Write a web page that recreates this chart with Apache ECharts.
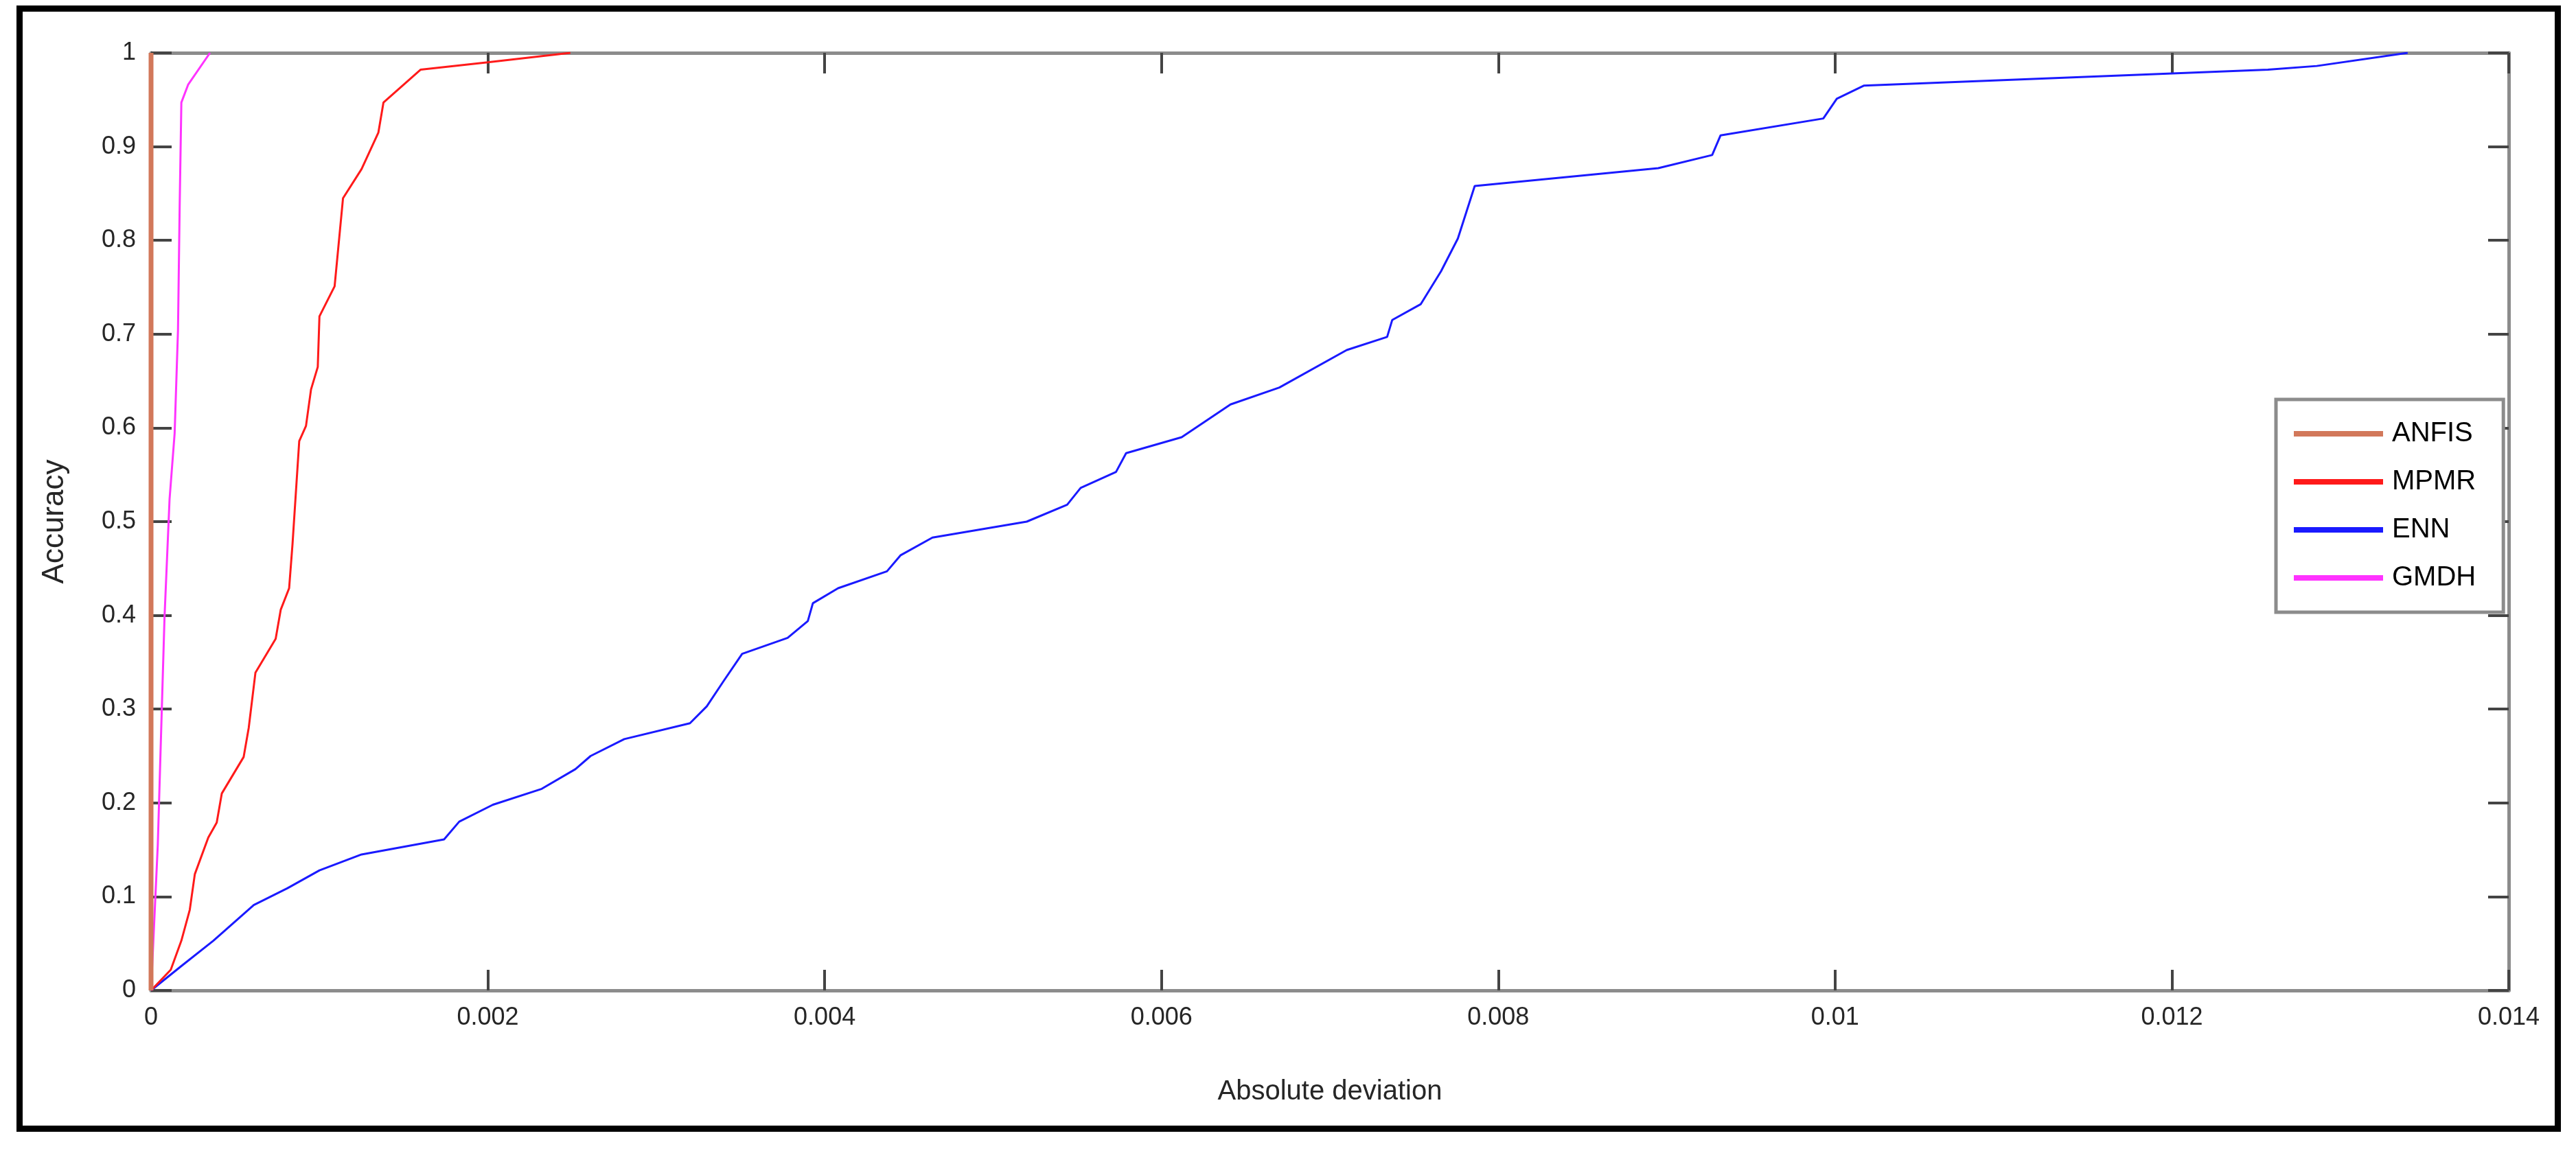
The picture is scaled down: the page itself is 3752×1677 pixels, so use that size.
<!DOCTYPE html>
<html>
<head>
<meta charset="utf-8">
<script src="https://cdn.jsdelivr.net/npm/echarts@6/dist/echarts.min.js"></script>
<style>
  html, body { margin: 0; padding: 0; background: #fff; }
  #chart { width: 3752px; height: 1677px; }
</style>
</head>
<body>
<div id="chart"></div>
<script>
// curves: [absolute deviation, accuracy]
var anfis = [[0, 0], [0, 1]];
var mpmr = [[0, 0], [0.000117, 0.022], [0.00018, 0.053], [0.00023, 0.086], [0.00026, 0.124],
  [0.00034, 0.163], [0.00039, 0.179], [0.00042, 0.21], [0.00055, 0.249], [0.00058, 0.28],
  [0.00062, 0.339], [0.00074, 0.375], [0.00077, 0.406], [0.00082, 0.429], [0.00084, 0.476],
  [0.00088, 0.586], [0.00092, 0.602], [0.00095, 0.641], [0.00099, 0.665], [0.001, 0.719],
  [0.00109, 0.751], [0.00114, 0.845], [0.00125, 0.876], [0.00135, 0.915], [0.00138, 0.947],
  [0.0016, 0.982], [0.002, 0.99], [0.00249, 1]];
var enn = [[0, 0], [0.00018, 0.026], [0.00037, 0.053], [0.00061, 0.091], [0.00081, 0.109],
  [0.001, 0.128], [0.00125, 0.145], [0.00174, 0.161], [0.00183, 0.18], [0.00203, 0.198],
  [0.00232, 0.215], [0.00252, 0.236], [0.00261, 0.25], [0.00281, 0.268], [0.0032, 0.285],
  [0.0033, 0.303], [0.0034, 0.33], [0.00351, 0.359], [0.00378, 0.376], [0.0039, 0.394],
  [0.00393, 0.413], [0.00408, 0.429], [0.00437, 0.447], [0.00445, 0.464], [0.00464, 0.483],
  [0.0052, 0.5], [0.00544, 0.518], [0.00552, 0.536], [0.00573, 0.553], [0.00579, 0.573],
  [0.00612, 0.59], [0.00641, 0.625], [0.0067, 0.643], [0.0071, 0.683], [0.00734, 0.697],
  [0.00737, 0.715], [0.00754, 0.732], [0.00766, 0.767], [0.00776, 0.802], [0.00786, 0.858],
  [0.00895, 0.877], [0.00927, 0.891], [0.00932, 0.912], [0.00993, 0.93], [0.01001, 0.951],
  [0.01017, 0.965], [0.01257, 0.982], [0.01286, 0.986], [0.0134, 1]];
var gmdh = [[0, 0], [0.00004, 0.155], [0.00008, 0.398], [0.00011, 0.524], [0.00014, 0.594],
  [0.00016, 0.704], [0.00017, 0.837], [0.00018, 0.947], [0.00022, 0.966], [0.00035, 1]];

var axisGrey = '#8c8c8c';
var labelColor = '#262626';
var font = 'Liberation Sans, Arial, sans-serif';

function xAxisCfg(pos, show) {
  return {
    type: 'value', position: pos, min: 0, max: 0.014, interval: 0.002,
    name: show ? 'Absolute deviation' : '', nameLocation: 'middle', nameGap: 128,
    nameTextStyle: { fontSize: 40, color: labelColor, fontFamily: font },
    axisLine: { show: true, onZero: false, lineStyle: { color: axisGrey, width: 5 } },
    axisTick: { show: true, inside: true, length: 30, lineStyle: { color: '#444', width: 4 } },
    axisLabel: { show: show, fontSize: 36, color: labelColor, margin: 22, fontFamily: font },
    splitLine: { show: false }
  };
}
function yAxisCfg(pos, show) {
  return {
    type: 'value', position: pos, min: 0, max: 1, interval: 0.1,
    name: show ? 'Accuracy' : '', nameLocation: 'middle', nameGap: 118,
    nameTextStyle: { fontSize: 44, color: labelColor, fontFamily: font },
    axisLine: { show: true, onZero: false, lineStyle: { color: axisGrey, width: 5 } },
    axisTick: { show: true, inside: true, length: 30, lineStyle: { color: '#444', width: 4 } },
    axisLabel: {
      show: show, fontSize: 36, color: labelColor, margin: 22, fontFamily: font,
      formatter: function (v) { return String(Math.round(v * 10) / 10); }
    },
    splitLine: { show: false }
  };
}
function line(name, data, color, width) {
  return {
    name: name, type: 'line', data: data, xAxisIndex: 0, yAxisIndex: 0,
    showSymbol: false, symbol: 'none', animation: false,
    lineStyle: { color: color, width: width }, itemStyle: { color: color }
  };
}

var chart = echarts.init(document.getElementById('chart'));
chart.setOption({
  backgroundColor: '#fff',
  animation: false,
  grid: { left: 220, right: 98, top: 77, bottom: 234 },
  xAxis: [xAxisCfg('bottom', true), xAxisCfg('top', false)],
  yAxis: [yAxisCfg('left', true), yAxisCfg('right', false)],
  legend: {
    orient: 'vertical', left: 3315, top: 582, width: 300,
    backgroundColor: '#fff', borderColor: axisGrey, borderWidth: 5,
    padding: [30, 40, 30, 26], itemWidth: 130, itemHeight: 8, itemGap: 30,
    icon: 'rect',
    textStyle: { fontSize: 40, color: '#000', fontFamily: font, padding: [0, 0, 0, 8] },
    data: ['ANFIS', 'MPMR', 'ENN', 'GMDH']
  },
  graphic: [{
    type: 'rect', left: 24, top: 8, z: -1,
    shape: { width: 3697, height: 1632 },
    style: { fill: 'none', stroke: '#000', lineWidth: 9 }
  }],
  series: [
    line('ENN', enn, '#1a1aff', 3),
    line('MPMR', mpmr, '#ff1a1a', 3),
    line('GMDH', gmdh, '#ff33ff', 3),
    line('ANFIS', anfis, '#d2785a', 7)
  ]
});
</script>
</body>
</html>
